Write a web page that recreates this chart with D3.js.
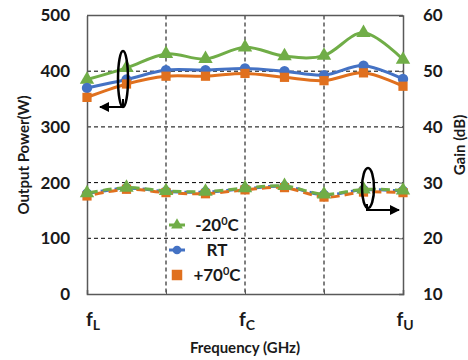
<!DOCTYPE html>
<html lang="en">
<head>
<meta charset="UTF-8">
<title>Output Power and Gain vs Frequency</title>
<script src="https://d3js.org/d3.v7.min.js"></script>
<style>
  body { margin: 0; background: #fff; }
  svg text { font-family: Lato, "Open Sans", sans-serif; font-weight: bold; fill: #1a1a1a; }
  .grid line { stroke: #000; stroke-width: 1; stroke-dasharray: 4 3; }
  .axis path, .axis line { stroke: #595959; }
</style>
</head>
<body>
<svg id="chart" width="468" height="360"></svg>
<script>
// frequency points (9 evenly spaced); labels only at fL, fC, fU
const freqIdx = [0, 1, 2, 3, 4, 5, 6, 7, 8];
const freqLabels = [{ i: 0, sub: "L" }, { i: 4, sub: "C" }, { i: 8, sub: "U" }];

// output power (W), left axis
const powerM20 = [385, 406, 431, 422, 443, 427, 428, 469, 421];
const powerRT  = [370, 385, 402, 402, 405, 400, 393, 410, 386];
const powerP70 = [353, 377, 391, 391, 396, 389, 383, 397, 373];

// gain (dB), right axis
const gainM20 = [28.1, 29.1, 28.5, 28.4, 29.0, 29.4, 27.9, 28.8, 28.6];
const gainRT  = [28.0, 29.0, 28.4, 28.3, 28.9, 29.3, 27.8, 28.7, 28.5];
const gainP70 = [27.6, 28.8, 28.2, 28.0, 28.7, 29.1, 27.4, 28.3, 28.2];

const leftTicks = [0, 100, 200, 300, 400, 500];
const rightTicks = [10, 20, 30, 40, 50, 60];

const series = [
  { name: "-20", color: "#70AD47", shape: d3.symbolTriangle, size: 90, power: powerM20, gain: gainM20 },
  { name: "RT",  color: "#4472C4", shape: d3.symbolCircle,   size: 85, power: powerRT,  gain: gainRT },
  { name: "+70", color: "#E0701E", shape: d3.symbolSquare,   size: 85, power: powerP70, gain: gainP70 }
];

const svg = d3.select("#chart");
const L = 87, R = 403, T = 15.5, B = 294;

const x = d3.scalePoint().domain(freqIdx).range([L, R]);
const yL = d3.scaleLinear().domain([0, 500]).range([B, T]);
const yR = d3.scaleLinear().domain([10, 60]).range([B, T]);

// grid
const grid = svg.append("g").attr("class", "grid");
grid.selectAll(".h").data(leftTicks.filter(d => d > 0 && d < 500)).enter().append("line")
  .attr("x1", L).attr("x2", R).attr("y1", d => yL(d)).attr("y2", d => yL(d));
grid.selectAll(".v").data([2, 4, 6]).enter().append("line")
  .attr("y1", T).attr("y2", B).attr("x1", d => x(d)).attr("x2", d => x(d));

// axes
svg.append("g").attr("class", "axis").attr("transform", `translate(${L},0)`)
  .call(d3.axisLeft(yL).tickValues(leftTicks).tickSize(0).tickPadding(17))
  .call(g => g.select(".domain").attr("stroke-width", 1.5))
  .selectAll("text").style("font-size", "17px");

svg.append("g").attr("class", "axis").attr("transform", `translate(${R},0)`)
  .call(d3.axisRight(yR).tickValues(rightTicks).tickSize(-4).tickPadding(20))
  .call(g => g.select(".domain").attr("stroke-width", 1.5))
  .selectAll("text").style("font-size", "17px");

svg.append("g").attr("class", "axis").attr("transform", `translate(0,${B})`)
  .call(d3.axisBottom(x).tickValues([2, 4, 6]).tickSize(-4).tickFormat(""))
  .call(g => g.select(".domain").attr("stroke-width", 1.5));

svg.append("line").attr("x1", L).attr("x2", R).attr("y1", T).attr("y2", T)
  .attr("stroke", "#595959").attr("stroke-width", 1.5);

// x labels with subscripts
const xl = svg.selectAll(".xl").data(freqLabels).enter().append("text")
  .attr("x", d => x(d.i) + (d.i === 0 ? 6 : 2)).attr("y", 326)
  .attr("text-anchor", "middle").style("font-size", "19px");
xl.append("tspan").text("f");
xl.append("tspan").attr("dy", 4).style("font-size", "14px").text(d => d.sub);

// axis titles
svg.append("text").attr("x", 245).attr("y", 353).attr("text-anchor", "middle")
  .style("font-size", "15px").text("Frequency (GHz)");
svg.append("text").attr("transform", "translate(29,155) rotate(-90)").attr("text-anchor", "middle")
  .style("font-size", "15px").text("Output Power(W)");
svg.append("text").attr("transform", "translate(465,145) rotate(-90)").attr("text-anchor", "middle")
  .style("font-size", "15px").text("Gain (dB)");

const curve = d3.curveCatmullRom.alpha(0);

// gain lines (dashed)
const gainOrder = [series[1], series[2], series[0]];
gainOrder.forEach((s, k) => {
  svg.append("path")
    .attr("d", d3.line().x((d, i) => x(i)).y(d => yR(d)).curve(curve)(s.gain))
    .attr("fill", "none").attr("stroke", s.color).attr("stroke-width", 3)
    .attr("stroke-dasharray", "9 5").attr("stroke-dashoffset", k * 6);
  svg.append("g").selectAll("path").data(s.gain).enter().append("path")
    .attr("transform", (d, i) => `translate(${x(i)},${yR(d)})`)
    .attr("d", d3.symbol().type(s.shape).size(s.size)).attr("fill", s.color);
});

// power lines (solid)
series.forEach(s => {
  svg.append("path")
    .attr("d", d3.line().x((d, i) => x(i)).y(d => yL(d)).curve(curve)(s.power))
    .attr("fill", "none").attr("stroke", s.color).attr("stroke-width", 3);
  svg.append("g").selectAll("path").data(s.power).enter().append("path")
    .attr("transform", (d, i) => `translate(${x(i)},${yL(d)})`)
    .attr("d", d3.symbol().type(s.shape).size(s.size)).attr("fill", s.color);
});

// legend
const leg = svg.append("g");
series.forEach((s, i) => {
  const ly = 225 + i * 25;
  const g = leg.append("g").attr("transform", `translate(177,${ly})`);
  if (i < 2) {
    g.append("line").attr("x1", -8).attr("x2", 8).attr("stroke", s.color).attr("stroke-width", 3);
  }
  g.append("path").attr("d", d3.symbol().type(s.shape).size(i === 2 ? 110 : 60)).attr("fill", s.color);
  const t = leg.append("text").attr("x", 217).attr("y", ly + 6).attr("text-anchor", "middle")
    .style("font-size", "17px");
  if (s.name === "RT") {
    t.text("RT");
  } else {
    t.append("tspan").text(s.name);
    t.append("tspan").attr("dy", -6).style("font-size", "11px").text("0");
    t.append("tspan").attr("dy", 6).text("C");
  }
});

// annotation ellipses and arrows
const defs = svg.append("defs");
defs.append("marker").attr("id", "arr").attr("viewBox", "0 0 10 10")
  .attr("refX", 9).attr("refY", 5).attr("markerWidth", 5).attr("markerHeight", 5)
  .attr("orient", "auto-start-reverse")
  .append("path").attr("d", "M0,0 L10,5 L0,10 Z").attr("fill", "#000");

svg.append("ellipse").attr("cx", 123).attr("cy", 79).attr("rx", 5).attr("ry", 28)
  .attr("fill", "none").attr("stroke", "#000").attr("stroke-width", 2.5);
svg.append("path").attr("d", "M123,99 L123,107 L100,107").attr("fill", "none")
  .attr("stroke", "#000").attr("stroke-width", 2).attr("marker-end", "url(#arr)");

svg.append("ellipse").attr("cx", 368).attr("cy", 188).attr("rx", 6).attr("ry", 20)
  .attr("fill", "none").attr("stroke", "#000").attr("stroke-width", 2.5);
svg.append("path").attr("d", "M367,204 L367,210 L399,210").attr("fill", "none")
  .attr("stroke", "#000").attr("stroke-width", 2).attr("marker-end", "url(#arr)");
</script>
</body>
</html>
